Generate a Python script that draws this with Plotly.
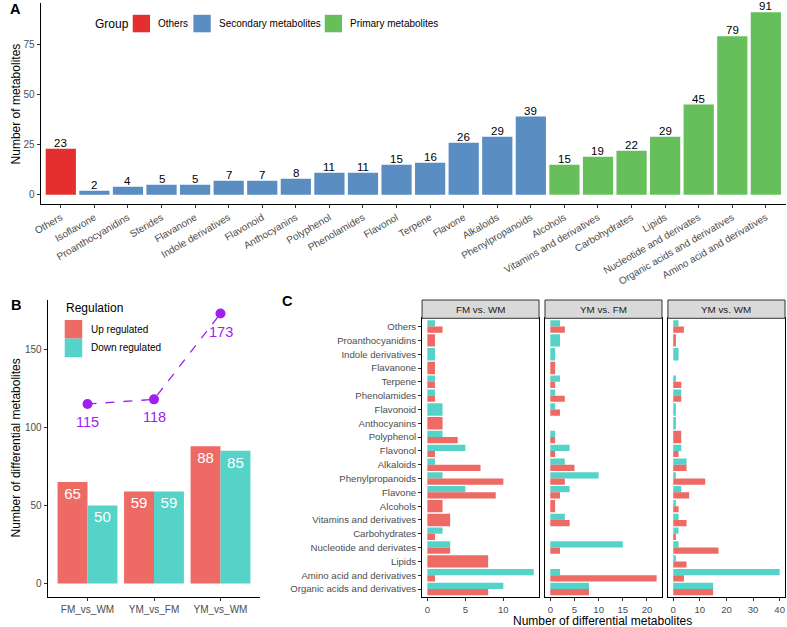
import plotly.graph_objects as go

W, H = 787, 627
FONT = "Liberation Sans, Arial, sans-serif"
TICK_GREY = "#4D4D4D"

# ---- panel A: number of metabolites per class
categories_a = ["Others", "Isoflavone", "Proanthocyanidins", "Sterides", "Flavanone",
                "Indole derivatives", "Flavonoid", "Anthocyanins", "Polyphenol",
                "Phenolamides", "Flavonol", "Terpene", "Flavone", "Alkaloids",
                "Phenylpropanoids", "Alcohols", "Vitamins and derivatives",
                "Carbohydrates", "Lipids", "Nucleotide and derivates",
                "Organic acids and derivatives", "Amino acid and derivatives"]
counts_a = [23, 2, 4, 5, 5, 7, 7, 8, 11, 11, 15, 16, 26, 29, 39, 15, 19, 22, 29, 45, 79, 91]
groups_a = ["Others"] + ["Secondary metabolites"] * 14 + ["Primary metabolites"] * 7
group_names = ["Others", "Secondary metabolites", "Primary metabolites"]
group_colors = {"Others": "#E3302F", "Secondary metabolites": "#5A8EC3",
                "Primary metabolites": "#67BF5C"}

# ---- panel B: differential metabolites per comparison
comparisons = ["FM_vs_WM", "YM_vs_FM", "YM_vs_WM"]
up_b = [65, 59, 88]
down_b = [50, 59, 85]

# ---- panel C: differential metabolites per class and comparison
classes_c = ["Others", "Proanthocyanidins", "Indole derivatives", "Flavanone", "Terpene",
             "Phenolamides", "Flavonoid", "Anthocyanins", "Polyphenol", "Flavonol",
             "Alkaloids", "Phenylpropanoids", "Flavone", "Alcohols",
             "Vitamins and derivatives", "Carbohydrates", "Nucleotide and derivates",
             "Lipids", "Amino acid and derivatives", "Organic acids and derivatives"]
facets_c = ["FM vs. WM", "YM vs. FM", "YM vs. WM"]
up_fm_wm = [2, 1, 0, 1, 1, 1, 0, 2, 4, 1, 7, 10, 9, 2, 3, 1, 3, 8, 1, 8]
down_fm_wm = [1, 0, 1, 0, 1, 1, 2, 0, 2, 5, 1, 2, 5, 0, 0, 2, 3, 0, 14, 10]
up_ym_fm = [3, 0, 0, 1, 1, 3, 2, 0, 1, 1, 5, 3, 2, 1, 4, 0, 2, 0, 22, 8]
down_ym_fm = [2, 2, 1, 0, 2, 1, 1, 0, 1, 4, 3, 10, 4, 0, 3, 0, 15, 0, 2, 8]
up_ym_wm = [4, 1, 0, 0, 3, 3, 0, 0, 3, 2, 5, 12, 6, 2, 5, 1, 17, 5, 4, 15]
down_ym_wm = [2, 0, 2, 0, 1, 3, 1, 1, 0, 3, 5, 1, 3, 1, 2, 2, 2, 1, 40, 15]

UP_COL = "#EE6A65"
DOWN_COL = "#55D3C9"
PURPLE = "#A020F0"


def px_x(x):
    return x / W


def px_y(y):
    return 1 - y / H


fig = go.Figure()

# panel A bars
fig.add_trace(go.Bar(
    x=categories_a, y=counts_a,
    marker=dict(color=[group_colors[g] for g in groups_a], line=dict(width=0)),
    width=0.9, showlegend=False, xaxis="x", yaxis="y"))

# panel B bars + totals line
fig.add_trace(go.Bar(
    x=comparisons, y=up_b, width=0.45, offset=-0.45,
    marker=dict(color=UP_COL, line=dict(width=0)),
    text=up_b, textposition="inside", insidetextanchor="end",
    textfont=dict(size=15, color="white", family=FONT),
    showlegend=False, xaxis="x2", yaxis="y2"))
fig.add_trace(go.Bar(
    x=comparisons, y=down_b, width=0.45, offset=0,
    marker=dict(color=DOWN_COL, line=dict(width=0)),
    text=down_b, textposition="inside", insidetextanchor="end",
    textfont=dict(size=15, color="white", family=FONT),
    showlegend=False, xaxis="x2", yaxis="y2"))
totals_b = [u + d for u, d in zip(up_b, down_b)]
fig.add_trace(go.Scatter(
    x=comparisons, y=totals_b, mode="lines+markers",
    line=dict(color=PURPLE, dash="dash", width=1.3),
    marker=dict(color=PURPLE, size=10),
    cliponaxis=False, showlegend=False, xaxis="x2", yaxis="y2"))

# panel C facets
facet_data = [(up_fm_wm, down_fm_wm), (up_ym_fm, down_ym_fm), (up_ym_wm, down_ym_wm)]
for k, (ups, downs) in enumerate(facet_data):
    ax = str(k + 3)
    for vals, other, col, is_down in [(downs, ups, DOWN_COL, True), (ups, downs, UP_COL, False)]:
        ys, xs, offs, wids = [], [], [], []
        for i, (v, o) in enumerate(zip(vals, other)):
            if v <= 0:
                continue
            ys.append(i)
            xs.append(v)
            if o > 0:
                offs.append(-0.45 if is_down else 0.0)
                wids.append(0.45)
            else:
                offs.append(-0.45)
                wids.append(0.9)
        fig.add_trace(go.Bar(
            x=xs, y=ys, orientation="h", offset=offs, width=wids,
            marker=dict(color=col, line=dict(width=0)),
            showlegend=False, xaxis="x" + ax, yaxis="y" + ax))

axis_common = dict(showgrid=False, zeroline=False, showline=True, linecolor="black",
                   linewidth=1, ticks="outside", ticklen=3, tickcolor="#333333",
                   tickfont=dict(size=10, color=TICK_GREY, family=FONT))

layout = dict(
    width=W, height=H, margin=dict(l=0, r=0, t=0, b=0), autosize=False,
    plot_bgcolor="white", paper_bgcolor="white", barmode="overlay",
    font=dict(family=FONT),
    xaxis=dict(axis_common, domain=[px_x(33), px_x(786)], anchor="y",
               range=[-0.6, 21.6], tickangle=-30, type="category"),
    yaxis=dict(axis_common, domain=[px_y(204), px_y(3)], anchor="x",
               range=[-4.55, 95.55], tickvals=[0, 25, 50, 75]),
    xaxis2=dict(axis_common, domain=[px_x(40), px_x(255)], anchor="y2",
                range=[-0.6, 2.6], type="category"),
    yaxis2=dict(axis_common, domain=[px_y(597), px_y(300)], anchor="x2",
                range=[-8.65, 181.65], tickvals=[0, 50, 100, 150]),
)

facet_x = [(418.3, 536.5), (542.5, 660.7), (666.7, 785)]
facet_ranges = [[-0.7, 14.7], [-1.1, 23.1], [-2, 42]]
facet_ticks = [[0, 5, 10], [0, 5, 10, 15, 20], [0, 10, 20, 30, 40]]
c_font = dict(size=9.6, color=TICK_GREY, family=FONT)
for k in range(3):
    ax = str(k + 3)
    layout["xaxis" + ax] = dict(axis_common, domain=[px_x(facet_x[k][0]), px_x(facet_x[k][1])],
                                anchor="y" + ax, range=facet_ranges[k],
                                tickvals=facet_ticks[k], mirror=True, tickfont=c_font)
    ydict = dict(axis_common, domain=[px_y(597.3), px_y(318.3)], anchor="x" + ax,
                 range=[19.6, -0.6], mirror=True, tickvals=list(range(len(classes_c))),
                 ticktext=classes_c, tickfont=c_font)
    if k > 0:
        ydict.update(showticklabels=False, ticks="")
    layout["yaxis" + ax] = ydict

fig.update_layout(**layout)

shapes = []
annotations = []


def note(text, x, y, size, color="black", xanchor="center", yanchor="middle", **kw):
    d = dict(text=text, xref="paper", yref="paper", x=px_x(x), y=px_y(y),
             xanchor=xanchor, yanchor=yanchor, showarrow=False,
             font=dict(size=size, color=color, family=FONT))
    d.update(kw)
    annotations.append(d)


# value labels on panel A bars
for cat, n in zip(categories_a, counts_a):
    annotations.append(dict(text=str(n), xref="x", yref="y", x=cat, y=n,
                            xanchor="center", yanchor="bottom", yshift=-2,
                            showarrow=False, font=dict(size=11.5, color="black", family=FONT)))

# totals under the purple points in panel B
for comp, t in zip(comparisons, totals_b):
    annotations.append(dict(text=str(t), xref="x2", yref="y2", x=comp, y=t,
                            xanchor="center", yanchor="middle", yshift=-18,
                            showarrow=False, font=dict(size=14.5, color=PURPLE, family=FONT)))

# facet strips
for k in range(3):
    shapes.append(dict(type="rect", xref="paper", yref="paper",
                       x0=px_x(facet_x[k][0]), x1=px_x(facet_x[k][1]),
                       y0=px_y(318.3), y1=px_y(300),
                       fillcolor="#D9D9D9", line=dict(color="#333333", width=1)))
    note(facets_c[k], (facet_x[k][0] + facet_x[k][1]) / 2, 309.2, 9.8, "#1A1A1A")

# legend for panel A
note("Group", 86, 24, 12, xanchor="left")
sw_x = [126, 187.3, 320]
for g, sx in zip(group_names, sw_x):
    shapes.append(dict(type="rect", xref="paper", yref="paper",
                       x0=px_x(sx), x1=px_x(sx + 17.5), y0=px_y(32.3), y1=px_y(14.8),
                       fillcolor=group_colors[g], line=dict(width=0)))
    note(g, sx + 23.5, 24, 10, xanchor="left")

# legend for panel B
note("Regulation", 56.5, 308, 12, xanchor="left")
for i, (lab, col) in enumerate([("Up regulated", UP_COL), ("Down regulated", DOWN_COL)]):
    top = 320 + i * 18.6
    shapes.append(dict(type="rect", xref="paper", yref="paper",
                       x0=px_x(57.3), x1=px_x(75), y0=px_y(top + 18.6), y1=px_y(top),
                       fillcolor=col, line=dict(width=0)))
    note(lab, 81.5, top + 9.3, 10, xanchor="left")

# axis titles
note("Number of metabolites", 8.5, 104, 12, textangle=-90)
note("Number of differential metabolites", 8.5, 448, 12, textangle=-90)
note("Number of differential metabolites", 601, 620.5, 12)

# panel tags
for tag, x, y in [("A", 8, 9), ("B", 8.5, 305), ("C", 282, 301)]:
    note("<b>%s</b>" % tag, x, y, 14.5)

fig.update_layout(shapes=shapes, annotations=annotations)

fig.write_html("out.html", config={"displayModeBar": False},
               post_script="document.body.style.margin='0px';")
